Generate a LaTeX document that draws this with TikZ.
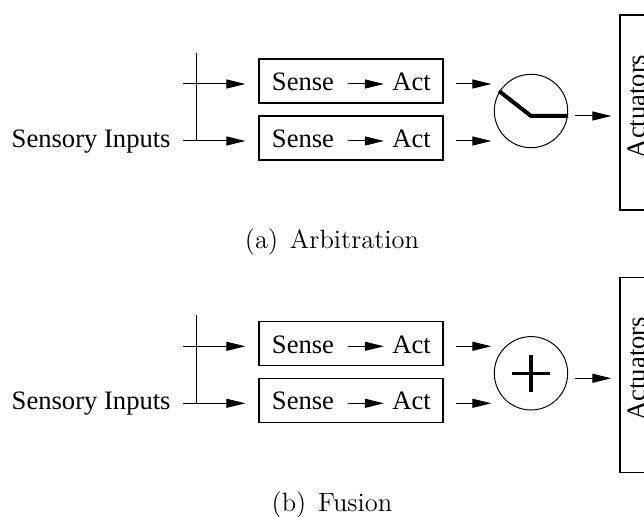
\documentclass[tikz,border=0pt]{standalone}
\usepackage{fontspec}
\newfontfamily\timesfont{Liberation Serif}
\usetikzlibrary{arrows.meta,calc}

\tikzset{
  wire/.style={line width=0.5pt},
  flow/.style={wire, -{Triangle[length=9.5pt,width=4.5pt]}},
  block/.style={draw, line width=0.6pt, minimum width=92pt, minimum height=22pt, inner sep=0pt},
  lbl/.style={font=\timesfont\fontsize{13.3}{16}\selectfont, inner sep=0pt},
  captext/.style={font=\fontsize{13.25}{16}\selectfont, inner sep=0pt},
  mixer/.style={circle, draw, line width=0.5pt, minimum size=36.7pt, inner sep=0pt},
  sink/.style={draw, line width=0.6pt, minimum width=40pt, minimum height=97.5pt, inner sep=0pt},
  bar/.style={line width=2pt, line cap=butt},
}

% Common part of one panel: inputs, the two Sense->Act behaviours,
% the combining element (mix) and the actuators.
\newcommand\behaviourpanel{%
  \coordinate (row1) at (0,84);
  \coordinate (row2) at (0,141);
  \coordinate (out) at (0,116);
  \node[lbl, anchor=base east] (in) at (171,147.3) {Sensory Inputs};
  \node[block] (b1) at (351,81) {};
  \node[block] (b2) at (351,138) {};
  \node[lbl, anchor=base] (s1) at (303,91) {Sense};
  \node[lbl, anchor=base] (t1) at (411.5,91) {Act};
  \node[lbl, anchor=base] (s2) at (303,147.3) {Sense};
  \node[lbl, anchor=base] (t2) at (411.5,147.3) {Act};
  \coordinate (top) at (196,52.7);
  \coordinate (fork) at (196,141);
  \coordinate (tap) at (183,84);
  \node[mixer] (mix) at (531,111) {};
  \node[sink] (act) at (660,112.5) {};
  \node[lbl, rotate=90, anchor=base] (actlbl) at (645,106.5) {Actuators};
  \draw[wire] (top) -- (fork);
  \draw[flow, shorten >=6.5pt] (tap) -- (b1.west |- row1);
  \draw[flow, shorten <=6pt, shorten >=6.5pt] (in.east |- row2) -- (b2.west |- row2);
  \draw[flow, shorten <=7pt, shorten >=4pt] (s1.east |- row1) -- (t1.west |- row1);
  \draw[flow, shorten <=7pt, shorten >=4pt] (s2.east |- row2) -- (t2.west |- row2);
  \draw[flow, shorten <=6pt, shorten >=1.2pt] (b1.east |- row1) -- (mix.west |- row1);
  \draw[flow, shorten <=6pt, shorten >=1.2pt] (b2.east |- row2) -- (mix.west |- row2);
  \draw[flow, shorten <=3.6pt, shorten >=4pt] (mix.east |- out) -- (act.west |- out);
}

\begin{document}
\begin{tikzpicture}[x=0.5pt, y=-0.5pt]
  \path[use as bounding box, clip] (0,0) rectangle (644,517);

  % (a) Arbitration: a switch selects one behaviour
  \begin{scope}[name prefix=a-]
    \behaviourpanel
    \coordinate (swA) at (499,91);
    \coordinate (swB) at (531,116);
    \coordinate (swC) at (568,116);
    \draw[bar] (swA) -- (swB) -- (swC);
    \node[captext, anchor=base] (capa) at (332,249) {(a)\hspace{0.45em}Arbitration};
  \end{scope}

  % (b) Fusion: the behaviours are summed
  \begin{scope}[shift={(0,262.3)}, name prefix=b-]
    \behaviourpanel
    \draw[line width=1.75pt] ([xshift=-9.5pt]mix.center) -- ([xshift=9.5pt]mix.center);
    \draw[line width=1.75pt] ([yshift=-9.25pt]mix.center) -- ([yshift=9.25pt]mix.center);
    \node[captext, anchor=base] (capb) at (332,249) {(b)\hspace{0.45em}Fusion};
  \end{scope}
\end{tikzpicture}
\end{document}
